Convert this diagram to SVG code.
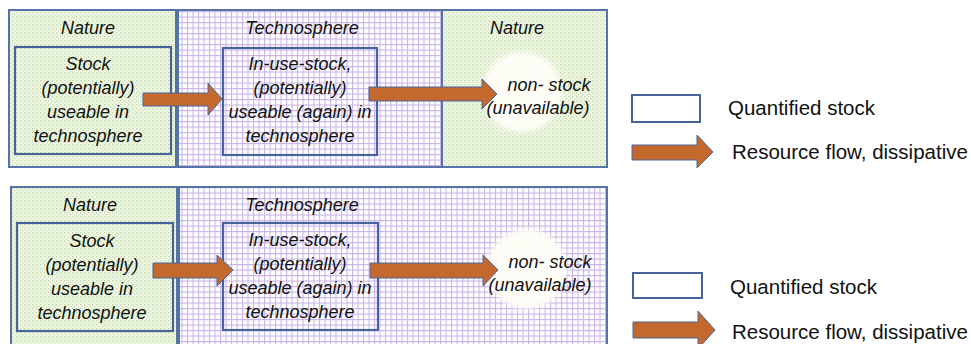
<svg xmlns="http://www.w3.org/2000/svg" width="971" height="344" viewBox="0 0 971 344">
<defs>
<pattern id="green" width="4" height="4" patternUnits="userSpaceOnUse">
<rect width="4" height="4" fill="#f0f5e6"/>
<rect x="0" y="0" width="1.3" height="1.3" fill="#bcd8a4"/>
<rect x="2" y="2" width="1.3" height="1.3" fill="#cce2b8"/>
</pattern>
<pattern id="grid" width="5.5" height="5.5" patternUnits="userSpaceOnUse">
<rect width="5.5" height="5.5" fill="#ffffff"/>
<path d="M0 0.5H5.5M0.5 0V5.5" stroke="#c9b4e6" stroke-width="1.1" fill="none"/>
</pattern>
<pattern id="dots" width="6" height="6" patternUnits="userSpaceOnUse">
<rect width="6" height="6" fill="#fffffb"/>
<circle cx="1.5" cy="1.5" r="0.7" fill="#e6dfb0"/>
<circle cx="4.5" cy="4.5" r="0.7" fill="#e6dfb0"/>
</pattern>
<filter id="soft" x="-20%" y="-20%" width="140%" height="140%">
<feGaussianBlur stdDeviation="2"/>
</filter>
</defs>
<style>
.nat{fill:url(#green);stroke:#5673a8;stroke-width:2}
.tec{fill:url(#grid);stroke:#5673a8;stroke-width:2}
.stock{fill:none;stroke:#46639a;stroke-width:2.2}
.arrow{fill:#c3692d;stroke:#4a679e;stroke-width:1}
.t{font-family:"Liberation Sans",Arial,sans-serif;font-style:italic;font-size:18px;fill:#111;text-anchor:middle}
.lg{font-family:"Liberation Sans",Arial,sans-serif;font-size:20.5px;fill:#111}
.lgbox{fill:#fff;stroke:#46639a;stroke-width:2}
</style>

<g id="top-nature-left">
<rect class="nat" x="9" y="10" width="167" height="157"/>
<text class="t" x="88" y="34">Nature</text>
</g>
<g id="top-technosphere">
<rect class="tec" x="178" y="10" width="264" height="157"/>
<text class="t" x="302" y="34">Technosphere</text>
</g>
<g id="top-nature-right">
<rect class="nat" x="442" y="10" width="165" height="157"/>
<text class="t" x="517" y="34">Nature</text>
</g>
<g id="top-stock">
<rect class="stock" x="15" y="47" width="156" height="107"/>
<text class="t" x="88"><tspan x="88" y="70">Stock</tspan><tspan x="88" y="94">(potentially)</tspan><tspan x="88" y="118">useable in</tspan><tspan x="88" y="142">technosphere</tspan></text>
</g>
<g id="top-inuse">
<rect class="stock" x="223" y="48" width="154" height="107"/>
<text class="t" x="300"><tspan x="300" y="70">In-use-stock,</tspan><tspan x="300" y="94">(potentially)</tspan><tspan x="300" y="118">useable (again) in</tspan><tspan x="300" y="142">technosphere</tspan></text>
</g>
<g id="top-nonstock">
<circle cx="522" cy="92" r="40" fill="url(#dots)" filter="url(#soft)"/>
<text class="t" x="538"><tspan x="549" y="91">non- stock</tspan><tspan x="538" y="114">(unavailable)</tspan></text>
</g>

<g id="bottom-nature">
<rect class="nat" x="11" y="187" width="166" height="170"/>
<text class="t" x="90" y="211">Nature</text>
</g>
<g id="bottom-technosphere">
<rect class="tec" x="179" y="187" width="428" height="170"/>
<text class="t" x="302" y="211">Technosphere</text>
</g>
<g id="bottom-stock">
<rect class="stock" x="17" y="223" width="156" height="108"/>
<text class="t" x="92"><tspan x="92" y="247">Stock</tspan><tspan x="92" y="271">(potentially)</tspan><tspan x="92" y="295">useable in</tspan><tspan x="92" y="319">technosphere</tspan></text>
</g>
<g id="bottom-inuse">
<rect class="stock" x="223" y="223" width="155" height="107"/>
<text class="t" x="300"><tspan x="300" y="246">In-use-stock,</tspan><tspan x="300" y="270">(potentially)</tspan><tspan x="300" y="294">useable (again) in</tspan><tspan x="300" y="318">technosphere</tspan></text>
</g>
<g id="bottom-nonstock">
<circle cx="527" cy="269" r="40" fill="url(#dots)" filter="url(#soft)"/>
<text class="t" x="540"><tspan x="550" y="268">non- stock</tspan><tspan x="540" y="291">(unavailable)</tspan></text>
</g>

<g id="legend-top">
<rect class="lgbox" x="632" y="95" width="68" height="27"/>
<text class="lg" x="728" y="115">Quantified stock</text>
<path class="arrow" d="M632 145H697V135L713 152L697 168V160H632Z"/>
<text class="lg" x="732" y="159">Resource flow, dissipative</text>
</g>
<g id="legend-bottom">
<rect class="lgbox" x="633" y="273" width="69" height="25"/>
<text class="lg" x="730" y="294">Quantified stock</text>
<path class="arrow" d="M633 322H698V311L715 330L698 349V338H633Z"/>
<text class="lg" x="732" y="339">Resource flow, dissipative</text>
</g>

<g id="connectors">
<path class="arrow" d="M143 93H208V83L222 99L208 115V106H143Z"/>
<path class="arrow" d="M369 87H482V79L497 94L482 109V101H369Z"/>
<path class="arrow" d="M153 263H217V255L233 270L217 286V278H153Z"/>
<path class="arrow" d="M370 263H483V255L498 270L483 286V278H370Z"/>
</g>
</svg>
